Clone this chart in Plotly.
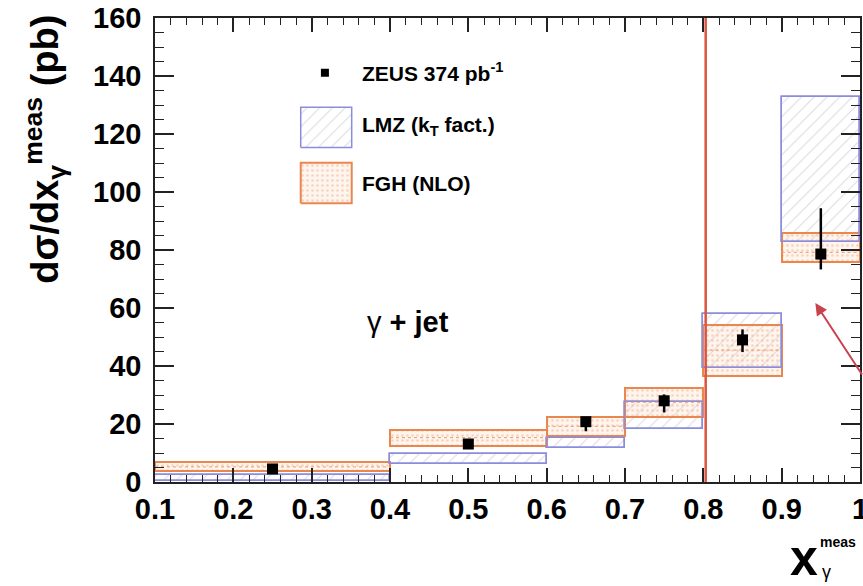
import plotly.graph_objects as go

# x_gamma^meas bins
bin_lo = [0.1, 0.4, 0.6, 0.7, 0.8, 0.9]
bin_hi = [0.4, 0.6, 0.7, 0.8, 0.9, 1.0]

# ZEUS measurement
zeus_x = [0.25, 0.5, 0.65, 0.75, 0.85, 0.95]
zeus_y = [4.5, 13.1, 20.8, 28.0, 49.0, 78.6]
zeus_err_up = [0.6, 0.8, 1.0, 2.2, 3.6, 15.8]
zeus_err_dn = [0.6, 0.8, 3.3, 4.0, 4.2, 5.3]

# LMZ (kT factorisation) band
lmz_lo = [0.3, 6.1, 11.6, 18.3, 39.2, 82.6]
lmz_hi = [2.4, 9.6, 15.3, 27.7, 57.8, 132.6]

# FGH (NLO) band and central value
fgh_lo = [3.9, 12.4, 16.0, 22.5, 36.6, 76.0]
fgh_hi = [6.8, 17.9, 22.3, 32.3, 54.1, 85.7]
fgh_mid = [5.2, 15.3, 19.2, 27.5, 45.5, 79.2]

x_ticks = [0.1, 0.2, 0.3, 0.4, 0.5, 0.6, 0.7, 0.8, 0.9, 1.0]
x_ticktext = ["0.1", "0.2", "0.3", "0.4", "0.5", "0.6", "0.7", "0.8", "0.9", "1"]

FONT = "Liberation Sans, Arial, Helvetica, sans-serif"
LMZ_LINE = "#8c8cdc"
LMZ_HATCH = "#b8b8c4"
FGH_LINE = "#e9874f"
FGH_DOT = "#f2b08a"
FGH_BG = "rgba(250,210,180,0.22)"

centers = [(a + b) / 2 for a, b in zip(bin_lo, bin_hi)]
widths = [b - a for a, b in zip(bin_lo, bin_hi)]

fig = go.Figure()

# LMZ hatched band
fig.add_trace(go.Bar(
    x=centers, width=widths, base=lmz_lo,
    y=[h - l for l, h in zip(lmz_lo, lmz_hi)],
    marker=dict(color="white",
                pattern=dict(shape="/", fgcolor=LMZ_HATCH, bgcolor="white",
                             size=9, solidity=0.12),
                line=dict(color=LMZ_LINE, width=1.5)),
    showlegend=False, hoverinfo="skip",
))

# FGH dotted band
fig.add_trace(go.Bar(
    x=centers, width=widths, base=fgh_lo,
    y=[h - l for l, h in zip(fgh_lo, fgh_hi)],
    marker=dict(color="rgba(0,0,0,0)",
                pattern=dict(shape=".", fgcolor=FGH_DOT, bgcolor=FGH_BG,
                             size=5, solidity=0.22),
                line=dict(color=FGH_LINE, width=2)),
    showlegend=False, hoverinfo="skip",
))

# FGH central value (dotted)
mid_x, mid_y = [], []
for lo, hi, m in zip(bin_lo, bin_hi, fgh_mid):
    mid_x += [lo, hi, None]
    mid_y += [m, m, None]
fig.add_trace(go.Scatter(
    x=mid_x, y=mid_y, mode="lines",
    line=dict(color="#eb9a6c", width=1, dash="dot"),
    showlegend=False, hoverinfo="skip",
))

# LMZ outlines on top
fig.add_trace(go.Bar(
    x=centers, width=widths, base=lmz_lo,
    y=[h - l for l, h in zip(lmz_lo, lmz_hi)],
    marker=dict(color="rgba(0,0,0,0)", line=dict(color=LMZ_LINE, width=1.5)),
    showlegend=False, hoverinfo="skip",
))

# ZEUS data points
fig.add_trace(go.Scatter(
    x=zeus_x, y=zeus_y, mode="markers",
    marker=dict(symbol="square", size=11, color="black"),
    error_y=dict(type="data", symmetric=False, array=zeus_err_up,
                 arrayminus=zeus_err_dn, thickness=2.5, width=0, color="black"),
    showlegend=False, hoverinfo="skip",
))

# legend swatches on a helper axis spanning the plot area
lx0, lx1 = 0.2067, 0.279
fig.add_trace(go.Scatter(
    x=[lx0, lx1, lx1, lx0, lx0], y=[0.721, 0.721, 0.8075, 0.8075, 0.721],
    xaxis="x2", yaxis="y2", mode="lines", fill="toself",
    fillcolor="white",
    fillpattern=dict(shape="/", fgcolor=LMZ_HATCH, bgcolor="white", size=9, solidity=0.12),
    line=dict(color=LMZ_LINE, width=1.5), showlegend=False, hoverinfo="skip",
))
fig.add_trace(go.Scatter(
    x=[lx0, lx1, lx1, lx0, lx0], y=[0.6006, 0.6006, 0.688, 0.688, 0.6006],
    xaxis="x2", yaxis="y2", mode="lines", fill="toself",
    fillcolor="rgba(250,210,180,0.22)",
    fillpattern=dict(shape=".", fgcolor=FGH_DOT, bgcolor=FGH_BG, size=5, solidity=0.22),
    line=dict(color=FGH_LINE, width=2), showlegend=False, hoverinfo="skip",
))
fig.add_trace(go.Scatter(
    x=[0.241], y=[0.882], xaxis="x2", yaxis="y2", mode="markers",
    marker=dict(symbol="square", size=8, color="black"),
    showlegend=False, hoverinfo="skip",
))

tick_font = dict(family=FONT, size=29, color="black", weight=700)

fig.update_layout(
    width=863, height=586,
    margin=dict(l=155, r=3, t=18, b=104, autoexpand=False),
    paper_bgcolor="white", plot_bgcolor="white",
    barmode="overlay", bargap=0,
    xaxis=dict(
        range=[0.1, 1.0], tickvals=x_ticks, ticktext=x_ticktext,
        ticks="inside", ticklen=14, tickwidth=1.5, tickcolor="#222",
        minor=dict(dtick=0.02, tick0=0.1, ticks="inside", ticklen=7,
                   tickwidth=1.2, tickcolor="#222"),
        showline=True, linecolor="#222", linewidth=1.5, mirror="ticks",
        showgrid=False, zeroline=False, tickfont=tick_font,
        ticklabeloverflow="allow", automargin=False,
    ),
    yaxis=dict(
        range=[0, 160], dtick=20, tick0=0,
        ticks="inside", ticklen=19, tickwidth=1.5, tickcolor="#222",
        minor=dict(dtick=5, ticks="inside", ticklen=9,
                   tickwidth=1.2, tickcolor="#222"),
        showline=True, linecolor="#222", linewidth=1.5, mirror="ticks",
        showgrid=False, zeroline=False, tickfont=tick_font, ticklabelstandoff=6,
        automargin=False,
    ),
    xaxis2=dict(overlaying="x", range=[0, 1], visible=False),
    yaxis2=dict(overlaying="y", range=[0, 1], visible=False),
    shapes=[
        dict(type="line", xref="x", yref="y", x0=0.803, x1=0.803, y0=0, y1=160,
             line=dict(color="#d9553f", width=2.5)),
    ],
    annotations=[
        dict(xref="paper", yref="paper", x=0.291, y=0.8836, xanchor="left",
             yanchor="middle", showarrow=False,
             text="<b>ZEUS 374 pb<sup>-1</sup></b>",
             font=dict(family=FONT, size=21, color="black")),
        dict(xref="paper", yref="paper", x=0.291, y=0.767, xanchor="left",
             yanchor="middle", showarrow=False,
             text="<b>LMZ (k<sub>T</sub> fact.)</b>",
             font=dict(family=FONT, size=21, color="black")),
        dict(xref="paper", yref="paper", x=0.291, y=0.644, xanchor="left",
             yanchor="middle", showarrow=False,
             text="<b>FGH (NLO)</b>",
             font=dict(family=FONT, size=21, color="black")),
        dict(xref="paper", yref="paper", x=0.359, y=0.345, xanchor="center",
             yanchor="middle", showarrow=False,
             text="γ <b>+ jet</b>",
             font=dict(family=FONT, size=29, color="black")),
        dict(xref="paper", yref="paper", x=-0.156, y=0.716, xanchor="center",
             yanchor="middle", showarrow=False, textangle=-90,
             text="<b>dσ/dx<sub>γ</sub><sup>meas</sup> (pb)</b>",
             font=dict(family=FONT, size=38, color="black")),
        # x-axis title: x with stacked "meas" superscript and gamma subscript
        dict(xref="paper", yref="paper", x=0.898, y=-0.163, xanchor="left",
             yanchor="middle", showarrow=False, text="<b>x</b>",
             font=dict(family=FONT, size=50, color="black")),
        dict(xref="paper", yref="paper", x=0.94, y=-0.13, xanchor="left",
             yanchor="middle", showarrow=False, text="<b>meas</b>",
             font=dict(family=FONT, size=14, color="black")),
        dict(xref="paper", yref="paper", x=0.943, y=-0.195, xanchor="left",
             yanchor="middle", showarrow=False, text="γ",
             font=dict(family=FONT, size=18, color="black")),
        dict(xref="x", yref="y", x=0.943, y=61.7, ax=70, ay=73,
             axref="pixel", ayref="pixel", text="", showarrow=True,
             arrowhead=2, arrowsize=1.2, arrowwidth=2, arrowcolor="#c9434f"),
    ],
)

fig.write_html("out.html")
